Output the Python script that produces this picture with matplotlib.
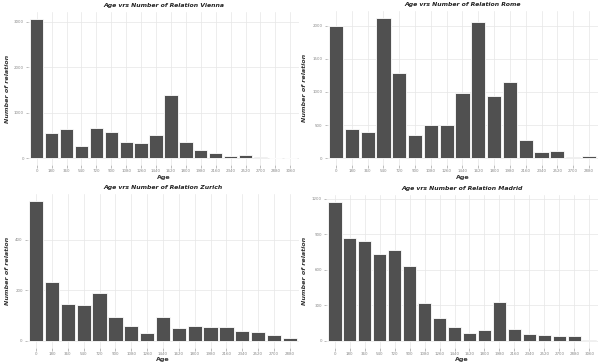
import matplotlib
matplotlib.use("Agg")
import matplotlib.pyplot as plt
import numpy as np

age_18 = [0, 180, 360, 540, 720, 900, 1080, 1260, 1440, 1620, 1800, 1980, 2160, 2340, 2520, 2700, 2880, 3060]
age_17 = age_18[:17]

vienna = [3050, 547, 635, 270, 657, 584, 365, 328, 518, 1380, 358, 190, 124, 51, 66, 29, 15, 15]
rome = [2000, 442, 392, 2110, 1281, 357, 503, 497, 990, 2050, 940, 1146, 281, 90, 105, 20, 35]
zurich = [551, 231, 144, 140, 190, 96, 58, 30, 96, 50, 60, 55, 56, 38, 34, 24, 12]
madrid = [1178, 866, 844, 735, 768, 631, 317, 193, 118, 64, 95, 331, 101, 62, 53, 42, 42, 11]

vienna_yticks = [0, 1000, 2000, 3000]
rome_yticks = [0, 500, 1000, 1500, 2000]
zurich_yticks = [0, 200, 400]
madrid_yticks = [0, 300, 600, 900, 1200]

panels = [
    ("Vienna", age_18, vienna, vienna_yticks, (27.8, 299.2, 12.4, 165.3), 8, 177),
    ("Rome", age_17, rome, rome_yticks, (326.6, 598.4, 11.4, 165.3), 305, 177),
    ("Zurich", age_17, zurich, zurich_yticks, (26.6, 299.4, 194.3, 347.8), 8, 359),
    ("Madrid", age_18, madrid, madrid_yticks, (325.8, 598.2, 194.6, 347.8), 305, 359),
]

W, H = 600, 362
fig = plt.figure(figsize=(6, 3.62), dpi=100)
fig.patch.set_facecolor("white")

grid_c = "#e6e6e6"
tick_c = "#8a8a8a"
bar_c = "#505050"

for city, ages, vals, yt, (l, r, t, b), ylab_x, age_y in panels:
    ax = fig.add_axes([l / W, 1 - b / H, (r - l) / W, (b - t) / H])
    n = len(vals)
    x = np.arange(n)
    ax.bar(x, vals, width=0.9, color=bar_c, edgecolor="white", linewidth=0.6, zorder=2)
    ax.set_xlim(-0.6, n - 1 + 0.6)
    m = max(vals)
    ax.set_ylim(-0.05 * m, 1.05 * m)
    ax.set_xticks(x)
    ax.set_xticklabels([str(a) for a in ages])
    ax.set_yticks(yt)
    ax.set_yticklabels([str(v) for v in yt])
    ax.tick_params(axis="both", labelsize=2.9, colors=tick_c, length=1.8, width=0.4, pad=1.0)
    for lab in ax.get_xticklabels() + ax.get_yticklabels():
        lab.set_color("#888888")
    ax.grid(True, color=grid_c, linewidth=0.5, zorder=0)
    ax.set_axisbelow(True)
    for s in ax.spines.values():
        s.set_visible(False)
    ax.set_facecolor("white")
    cx = (l + r) / 2 / W
    fig.text(cx, 1 - (t - 6.5) / H, f"Age vrs Number of Relation {city}", ha="center", va="center",
             fontsize=4.4, fontweight="bold", fontstyle="italic", color="#222222")
    fig.text(cx, 1 - age_y / H, "Age", ha="center", va="center",
             fontsize=4.6, fontweight="bold", color="#333333")
    fig.text(ylab_x / W, 1 - ((t + b) / 2) / H, "Number of relation", ha="center", va="center",
             rotation=90, fontsize=4.6, fontweight="bold", fontstyle="italic", color="#333333")

fig.savefig("out.png", dpi=100, facecolor="white")
